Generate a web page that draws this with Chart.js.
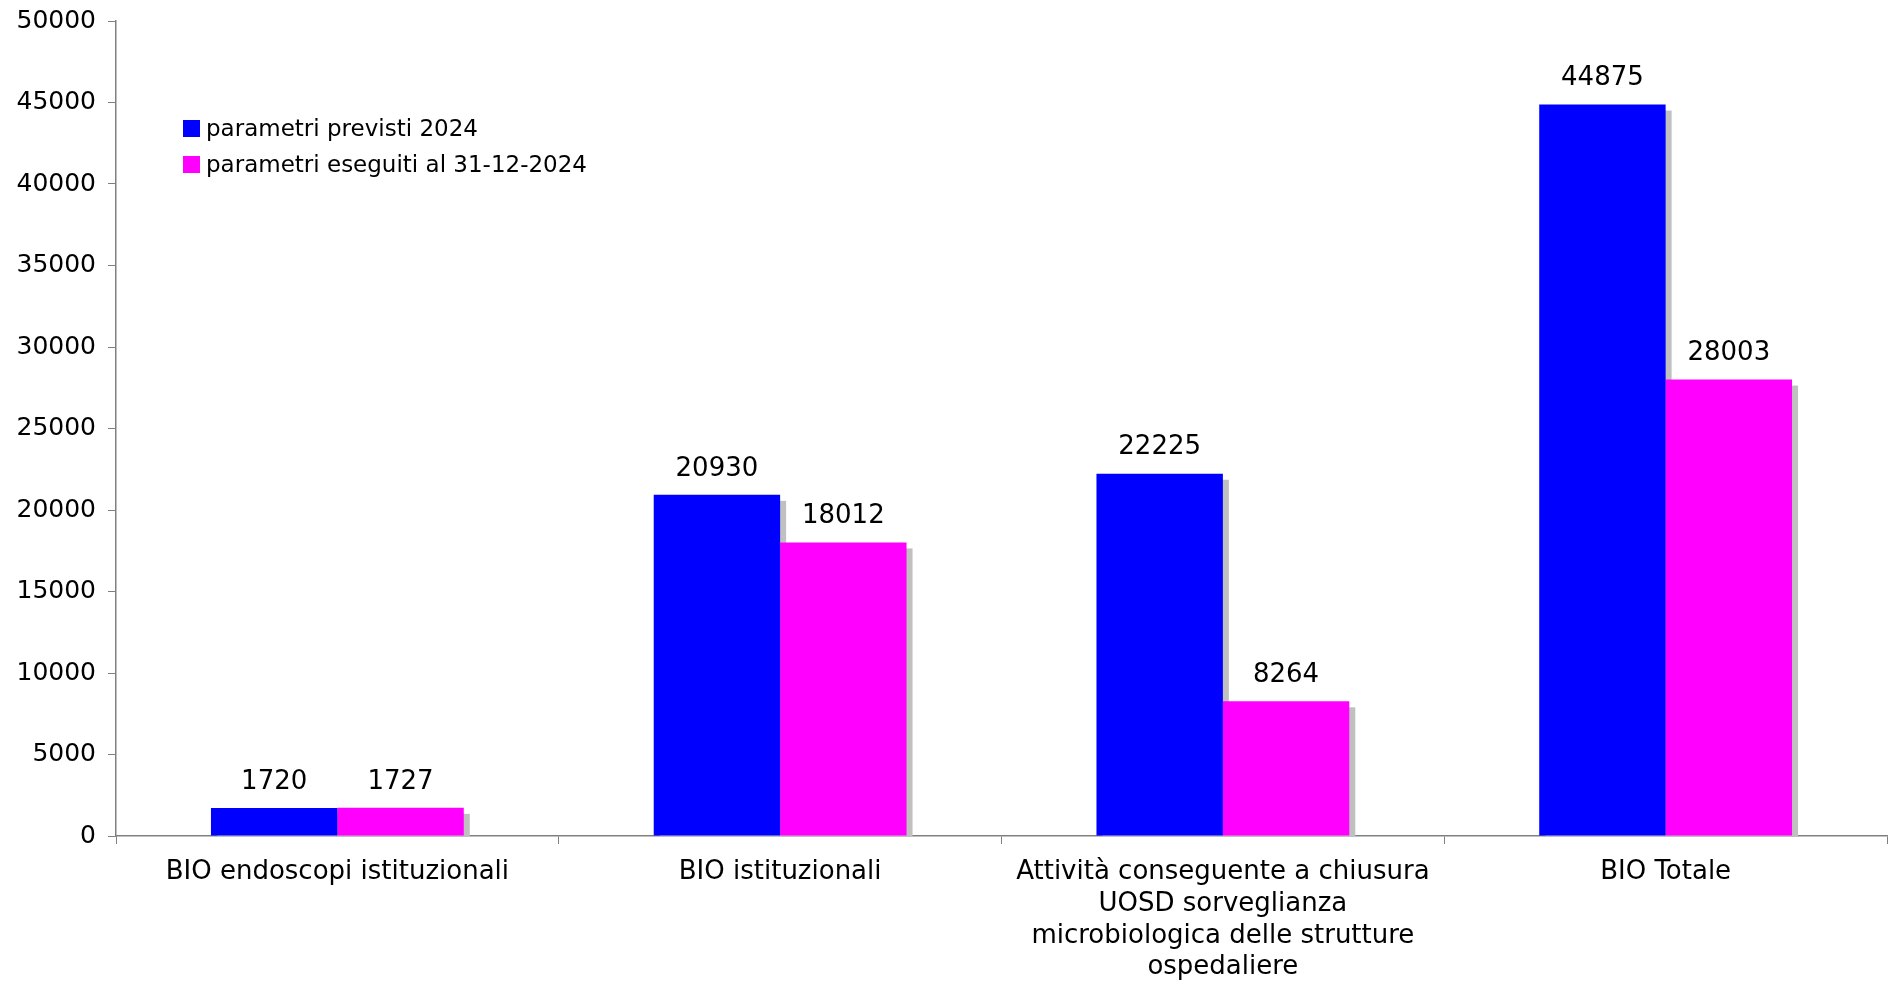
<!DOCTYPE html>
<html>
<head>
<meta charset="utf-8">
<script src="https://cdn.jsdelivr.net/npm/chart.js@4/dist/chart.umd.min.js"></script>
<style>
  html, body { margin: 0; padding: 0; background: #fff; }
  #wrap { position: relative; width: 1899px; height: 985px; }
  #legenda { position: absolute; left: 183px; top: 110px; font-family: 'DejaVu Sans', Verdana, sans-serif; font-size: 23px; color: #000; }
  #legenda div { height: 36px; line-height: 36px; white-space: nowrap; }
  #legenda span { display: inline-block; width: 17px; height: 17px; margin-right: 6px; vertical-align: -1px; }
</style>
</head>
<body>
<div id="wrap">
  <canvas id="myChart" width="1899" height="985"></canvas>
  <div id="legenda"></div>
</div>
<script>
const categorie = [
  'BIO endoscopi istituzionali',
  'BIO istituzionali',
  ['Attività conseguente a chiusura', 'UOSD sorveglianza', 'microbiologica delle strutture', 'ospedaliere'],
  'BIO Totale'
];
const previsti = [1720, 20930, 22225, 44875];
const eseguiti = [1727, 18012, 8264, 28003];
const nomiSerie = ['parametri previsti 2024', 'parametri eseguiti al 31-12-2024'];
const colori = ['#0000ff', '#ff00ff'];

const font = "'DejaVu Sans', Verdana, sans-serif";

// ombra grigia dietro le barre: tutte prima, poi le barre sopra
const ombra = {
  id: 'ombra',
  beforeDatasetsDraw(chart) {
    const ctx = chart.ctx;
    const a = chart.chartArea;
    ctx.save();
    ctx.beginPath();
    ctx.rect(a.left, a.top, a.right - a.left, a.bottom - a.top);
    ctx.clip();
    ctx.fillStyle = '#c0c0c0';
    chart.data.datasets.forEach((ds, i) => {
      chart.getDatasetMeta(i).data.forEach(bar => {
        const p = bar.getProps(['x', 'y', 'base', 'width'], true);
        ctx.fillRect(p.x - p.width / 2 + 6, p.y + 6, p.width, p.base - p.y);
      });
    });
    ctx.restore();
  }
};

// valori sopra le barre
const etichette = {
  id: 'etichette',
  afterDatasetsDraw(chart) {
    const ctx = chart.ctx;
    ctx.save();
    ctx.font = '26px ' + font;
    ctx.fillStyle = '#000';
    ctx.textAlign = 'center';
    ctx.textBaseline = 'middle';
    chart.data.datasets.forEach((ds, i) => {
      chart.getDatasetMeta(i).data.forEach((bar, j) => {
        ctx.fillText(ds.data[j], bar.x, bar.y - 26);
      });
    });
    ctx.restore();
  }
};

const config = {
  type: 'bar',
  data: {
    labels: categorie,
    datasets: [
      { label: nomiSerie[0], data: previsti, backgroundColor: colori[0] },
      { label: nomiSerie[1], data: eseguiti, backgroundColor: colori[1] }
    ]
  },
  options: {
    responsive: false,
    animation: false,
    layout: { padding: { top: 21, right: 12 } },
    datasets: { bar: { categoryPercentage: 0.571, barPercentage: 1 } },
    plugins: { legend: { display: false }, tooltip: { enabled: false } },
    scales: {
      x: {
        grid: { drawOnChartArea: false, tickLength: 8, color: '#808080', offset: true },
        border: { color: '#808080', width: 1.5 },
        ticks: { color: '#000', padding: 12, maxRotation: 0, autoSkip: false, font: { family: font, size: 26, lineHeight: 1.227 } },
        afterFit(scale) { scale.height = 149; }
      },
      y: {
        min: 0, max: 50000,
        grid: { drawOnChartArea: false, tickLength: 8, color: '#808080' },
        border: { color: '#808080', width: 1.5 },
        ticks: { stepSize: 5000, color: '#000', padding: 12, font: { family: font, size: 25 }, callback: v => String(v) },
        afterFit(scale) {
          scale.width = 116;
          scale.paddingTop = 0;
          scale.paddingBottom = 0;
        }
      }
    }
  },
  plugins: [ombra, etichette]
};

const chart = new Chart(document.getElementById('myChart'), config);

let html = '';
nomiSerie.forEach((n, i) => {
  html += `<div><span style="background:${colori[i]}"></span>${n}</div>`;
});
document.getElementById('legenda').innerHTML = html;
</script>
</body>
</html>
